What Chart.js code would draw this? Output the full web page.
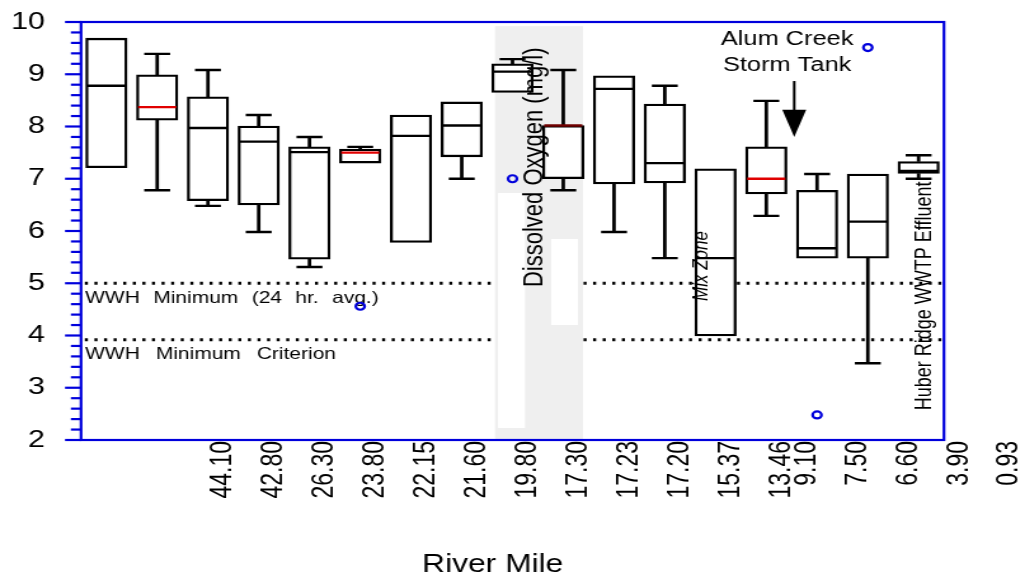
<!DOCTYPE html>
<html>
<head>
<meta charset="utf-8">
<script src="https://cdn.jsdelivr.net/npm/chart.js@4.4.1/dist/chart.umd.min.js"></script>
<style>
  html, body { margin: 0; padding: 0; background: #fff; overflow: hidden; }
  canvas { display: block; }
</style>
</head>
<body>
<!-- drawn narrow and shown wide, the original picture is stretched sideways -->
<canvas id="doChart" width="807" height="577" style="width:1025px;height:577px"></canvas>
<script>
// river mile labels and where they sit along the station axis
const riverMiles = ['44.10', '42.80', '26.30', '23.80', '22.15', '21.60', '19.80', '17.30', '17.23',
  '17.20', '15.37', '13.46', '9.10', '7.50', '6.60', '3.90', '0.93'];
const mileTickAt = [2.3, 3.3, 4.3, 5.3, 6.3, 7.3, 8.3, 9.3, 10.3, 11.3, 12.3, 13.3, 13.8, 14.8, 15.8, 16.8, 17.8];

// box plot values per station (0..16), dissolved oxygen mg/l
const stations = [0, 1, 2, 3, 4, 5, 6, 7, 8, 9, 10, 11, 12, 13, 14, 15, 16];
const whiskerHigh = [null, 9.39, 9.08, 8.22, 7.80, 7.61, null, null, 9.29, 9.08, null, 8.78, null, 8.49, 7.09, null, 7.45];
const upperQuartile = [9.69, 8.99, 8.57, 8.01, 7.61, 7.57, 8.22, 8.47, 9.20, 8.02, 8.97, 8.43, 7.19, 7.61, 6.78, 7.09, 7.33];
const medians = [8.78, 8.37, 7.97, 7.71, 7.51, 7.50, 7.82, 8.02, 9.05, 8.02, 8.72, 7.30, 5.48, 7.00, 5.67, 6.18, 7.15];
const lowerQuartile = [7.21, 8.12, 6.58, 6.50, 5.46, 7.30, 5.78, 7.42, 8.65, 7.00, 6.90, 6.92, 3.99, 6.71, 5.48, 5.48, 7.10];
const whiskerLow = [null, 6.78, 6.48, 5.98, 5.31, null, null, 7.00, null, 6.78, 5.98, 5.48, null, 6.29, null, 3.47, 7.00];

// outliers: station index and value
const outlierStation = [5, 8, 14, 15];
const outlierValue = [4.56, 7.00, 2.48, 9.51];

// WWH criteria lines
const criteria = [5, 3.92];
const criteriaLabels = ['WWH Minimum (24 hr. avg.)', 'WWH Minimum Criterion'];

const BLUE = 'rgb(0,0,220)';
const FONT = '"Liberation Sans", Arial, sans-serif';

const medianColors = stations.map(i => {
  if (i === 9) return '#700000';
  return [1, 5, 13].includes(i) ? '#e00000' : '#000';
});

const boxData = stations.map(i => ({ x: i, y: [lowerQuartile[i], upperQuartile[i]] }));
const upperWhisker = stations.filter(i => whiskerHigh[i] != null).map(i => ({ x: i, y: [upperQuartile[i], whiskerHigh[i]] }));
const lowerWhisker = stations.filter(i => whiskerLow[i] != null).map(i => ({ x: i, y: [whiskerLow[i], lowerQuartile[i]] }));
const caps = [
  ...stations.filter(i => whiskerHigh[i] != null).map(i => ({ x: i, y: whiskerHigh[i] })),
  ...stations.filter(i => whiskerLow[i] != null).map(i => ({ x: i, y: whiskerLow[i] }))
];
const medianPoints = stations.map(i => ({ x: i, y: medians[i] }));
const outlierPoints = outlierStation.map((s, k) => ({ x: s, y: outlierValue[k] }));

function upText(ctx, str, px, py, align) {
  ctx.save();
  ctx.translate(px, py);
  ctx.rotate(-Math.PI / 2);
  ctx.textAlign = align;
  ctx.fillText(str, 0, 0);
  ctx.restore();
}

const overlay = {
  id: 'overlay',
  beforeDatasetsDraw(chart) {
    const { ctx, chartArea: a, scales: { x, y } } = chart;
    ctx.save();

    // dotted criteria lines
    ctx.strokeStyle = '#000';
    ctx.lineWidth = 3;
    ctx.setLineDash([2.4, 5.15]);
    criteria.forEach(v => {
      const py = y.getPixelForValue(v);
      ctx.beginPath();
      ctx.moveTo(a.left + 3, py);
      ctx.lineTo(a.right, py);
      ctx.stroke();
    });
    ctx.setLineDash([]);

    // grey band with its white patches
    const rect = (x0, x1, y0, y1, c) => {
      const px0 = x.getPixelForValue(x0), px1 = x.getPixelForValue(x1);
      const py0 = y.getPixelForValue(y0), py1 = y.getPixelForValue(y1);
      ctx.fillStyle = c;
      ctx.fillRect(px0, py0, px1 - px0, py1 - py0);
    };
    rect(7.656, 9.39, 9.92, 2, '#efefef');
    rect(7.715, 8.247, 6.727, 2.23, '#fff');
    rect(8.759, 9.291, 5.847, 4.20, '#fff');

    // criteria labels
    ctx.fillStyle = '#000';
    ctx.font = '16.5px ' + FONT;
    ctx.textAlign = 'left';
    ctx.textBaseline = 'alphabetic';
    ctx.wordSpacing = '6px';
    ctx.fillText(criteriaLabels[0], x.getPixelForValue(-0.42), y.getPixelForValue(4.62));
    ctx.wordSpacing = '8px';
    ctx.fillText(criteriaLabels[1], x.getPixelForValue(-0.42), y.getPixelForValue(3.55));
    ctx.wordSpacing = '0px';

    ctx.font = '18px ' + FONT;
    upText(ctx, 'Huber Ridge WWTP Effluent', x.getPixelForValue(16.25), y.getPixelForValue(2.57), 'left');
    ctx.restore();
  },
  afterDatasetsDraw(chart) {
    const { ctx, chartArea: a, scales: { x, y } } = chart;
    ctx.save();
    ctx.fillStyle = '#000';
    ctx.textBaseline = 'alphabetic';

    ctx.font = 'italic 17px ' + FONT;
    upText(ctx, 'Mix Zone', x.getPixelForValue(11.85), y.getPixelForValue(5.33), 'center');

    ctx.font = '22px ' + FONT;
    upText(ctx, 'Dissolved Oxygen (mg/l)', x.getPixelForValue(8.6), y.getPixelForValue(7.22), 'center');

    // storm tank note and arrow
    ctx.font = '20px ' + FONT;
    ctx.textAlign = 'center';
    ctx.fillText('Alum Creek', x.getPixelForValue(13.41), y.getPixelForValue(9.56));
    ctx.fillText('Storm Tank', x.getPixelForValue(13.41), y.getPixelForValue(9.06));
    const ax = x.getPixelForValue(13.55);
    ctx.strokeStyle = '#000';
    ctx.lineWidth = 2;
    ctx.beginPath();
    ctx.moveTo(ax, y.getPixelForValue(8.87));
    ctx.lineTo(ax, y.getPixelForValue(8.3));
    ctx.stroke();
    ctx.beginPath();
    ctx.moveTo(ax - 9.4, y.getPixelForValue(8.32));
    ctx.lineTo(ax + 9.4, y.getPixelForValue(8.32));
    ctx.lineTo(ax, y.getPixelForValue(7.8));
    ctx.closePath();
    ctx.fill();

    // blue frame and y ticks
    ctx.strokeStyle = BLUE;
    ctx.lineWidth = 2.2;
    ctx.strokeRect(a.left, a.top, a.right - a.left, a.bottom - a.top);
    for (let k = 0; k <= 40; k++) {
      const py = y.getPixelForValue(2 + k / 5);
      const len = k % 5 === 0 ? 12.6 : 8;
      ctx.beginPath();
      ctx.moveTo(a.left - len, py);
      ctx.lineTo(a.left, py);
      ctx.stroke();
    }

    // axis title
    ctx.fillStyle = '#000';
    ctx.font = '25px ' + FONT;
    ctx.textAlign = 'center';
    ctx.fillText('River Mile', x.getPixelForValue(7.61), a.bottom + 132);
    ctx.restore();
  }
};

new Chart(document.getElementById('doChart'), {
  type: 'bar',
  data: {
    datasets: [
      {
        type: 'scatter',
        data: outlierPoints,
        pointStyle: 'circle',
        pointRadius: 3.5,
        pointBorderWidth: 2.2,
        pointBorderColor: BLUE,
        pointBackgroundColor: 'rgba(0,0,0,0)'
      },
      {
        type: 'scatter',
        data: medianPoints,
        pointStyle: 'line',
        pointRadius: 15,
        pointBorderWidth: 2.4,
        pointBorderColor: medianColors
      },
      {
        type: 'scatter',
        data: caps,
        pointStyle: 'line',
        pointRadius: 10.2,
        pointBorderWidth: 2.4,
        pointBorderColor: '#000'
      },
      {
        data: boxData,
        grouped: false,
        barThickness: 32.5,
        backgroundColor: '#fff',
        borderColor: '#000',
        borderWidth: 2.3,
        borderSkipped: false
      },
      {
        data: upperWhisker,
        grouped: false,
        barThickness: 2.1,
        backgroundColor: '#000',
        borderWidth: 0
      },
      {
        data: lowerWhisker,
        grouped: false,
        barThickness: 2.1,
        backgroundColor: '#000',
        borderWidth: 0
      }
    ]
  },
  options: {
    responsive: false,
    devicePixelRatio: 1,
    animation: false,
    events: [],
    layout: { padding: { left: 0, top: 22, right: 63.8, bottom: 0 } },
    plugins: {
      legend: { display: false },
      tooltip: { enabled: false }
    },
    scales: {
      x: {
        type: 'linear',
        offset: false,
        min: -0.5,
        max: 16.5,
        grid: { display: false, drawTicks: false, offset: false },
        border: { display: false },
        afterBuildTicks: s => { s.ticks = mileTickAt.map(v => ({ value: v })); },
        afterFit: s => { s.height = 137; s.paddingLeft = 0; s.paddingRight = 0; },
        ticks: {
          autoSkip: false,
          maxRotation: 90,
          minRotation: 90,
          padding: 1,
          color: '#000',
          font: { family: FONT, size: 23 },
          callback: (v, i) => riverMiles[i]
        }
      },
      y: {
        min: 2,
        max: 10,
        grid: { display: false, drawTicks: false },
        border: { display: false },
        afterFit: s => { s.width = 63.8; s.paddingTop = 0; s.paddingBottom = 0; },
        ticks: {
          stepSize: 1,
          padding: 28.4,
          color: '#000',
          font: { family: FONT, size: 24 }
        }
      }
    }
  },
  plugins: [overlay]
});
</script>
</body>
</html>
